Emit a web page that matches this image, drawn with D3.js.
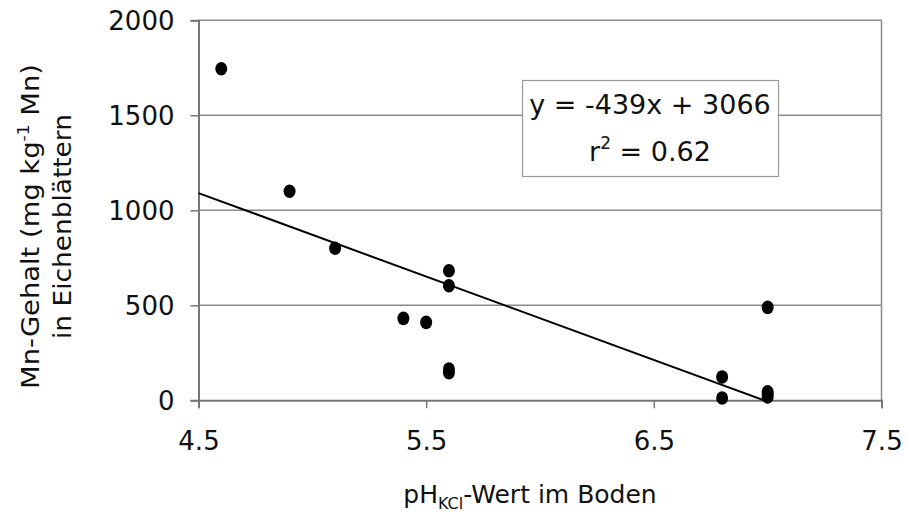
<!DOCTYPE html>
<html><head><meta charset="utf-8">
<script src="https://cdn.jsdelivr.net/npm/d3@7"></script>
<style>body{margin:0;background:#fff}svg{display:block}text{font-family:"DejaVu Sans",Verdana,sans-serif;fill:#111}</style>
</head><body><svg id="c" width="907" height="513"></svg>
<script>
const phValues = [4.6, 4.9, 5.1, 5.6, 5.6, 5.4, 5.5, 5.6, 5.6, 6.8, 6.8, 7.0, 7.0, 7.0, 7.0];
const mnValues = [1745, 1100, 800, 682, 603, 431, 410, 165, 145, 123, 12, 489, 45, 30, 18];
const xTicks = [4.5, 5.5, 6.5, 7.5];
const yTicks = [0, 500, 1000, 1500, 2000];
const slope = -439, intercept = 3066;
const eqLines = ["y = -439x + 3066", "r2 = 0.62"];

const svg = d3.select("#c");
const L = 198.5, R = 881.5, T = 20.3, B = 400.3;
const x = d3.scaleLinear().domain([4.5, 7.5]).range([L, R]);
const y = d3.scaleLinear().domain([0, 2000]).range([B, T]);

// gridlines
svg.append("g").selectAll("line").data(yTicks.filter(d => d > 0)).join("line")
  .attr("x1", L).attr("x2", R).attr("y1", d => y(d)).attr("y2", d => y(d))
  .attr("stroke", "#8a8a8a").attr("stroke-width", 1.5);
// right border
svg.append("line").attr("x1", R).attr("x2", R).attr("y1", T).attr("y2", B).attr("stroke", "#8a8a8a").attr("stroke-width", 1.5);

// axes
const yAxis = d3.axisLeft(y).tickValues(yTicks).tickSize(8).tickPadding(16).tickFormat(d3.format("d"));
const gy = svg.append("g").attr("transform", `translate(${L},0)`).call(yAxis);
const xAxis = d3.axisBottom(x).tickValues(xTicks).tickSize(8).tickPadding(23).tickFormat(d3.format(".1f"));
const gx = svg.append("g").attr("transform", `translate(0,${B})`).call(xAxis);
[gx, gy].forEach(g => {
  g.select(".domain").attr("stroke", "#777").attr("stroke-width", 2);
  g.selectAll(".tick line").attr("stroke", "#777").attr("stroke-width", 1.5);
  g.selectAll(".tick text").attr("font-size", 26).attr("font-family", '"DejaVu Sans",Verdana,sans-serif').attr("fill", "#111");
});
gy.selectAll(".tick text").attr("dy", "0.36em");

// regression line from x=4.5 to x-intercept
const xEnd = -intercept / slope;
svg.append("line")
  .attr("x1", x(4.5)).attr("y1", y(slope * 4.5 + intercept))
  .attr("x2", x(xEnd)).attr("y2", y(slope * xEnd + intercept))
  .attr("stroke", "#000").attr("stroke-width", 2);

// points
svg.append("g").selectAll("ellipse").data(phValues.map((p, i) => [p, mnValues[i]])).join("ellipse")
  .attr("cx", d => x(d[0])).attr("cy", d => y(d[1])).attr("rx", 6).attr("ry", 6.8).attr("fill", "#000");

// equation box
svg.append("rect").attr("x", 522.5).attr("y", 80.5).attr("width", 256).attr("height", 96)
  .attr("fill", "#fff").attr("stroke", "#999").attr("stroke-width", 1.2);
svg.append("text").attr("x", 650).attr("y", 114).attr("text-anchor", "middle").attr("font-size", 27).text(eqLines[0]);
const t2 = svg.append("text").attr("x", 650).attr("y", 161).attr("text-anchor", "middle").attr("font-size", 27);
t2.append("tspan").text("r");
t2.append("tspan").attr("font-size", 17).attr("dy", -12).text("2");
t2.append("tspan").attr("dy", 12).text(" = 0.62");

// x title
const xt = svg.append("text").attr("x", 530).attr("y", 503).attr("text-anchor", "middle").attr("font-size", 25);
xt.append("tspan").text("pH");
xt.append("tspan").attr("font-size", 16).attr("dy", 6).text("KCl");
xt.append("tspan").attr("dy", -6).text("-Wert im Boden");

// y title
const yt = svg.append("text").attr("transform", "translate(39,226.5) rotate(-90) scale(1.14,1)").attr("text-anchor", "middle").attr("font-size", 24);
yt.append("tspan").text("Mn-Gehalt (mg kg");
yt.append("tspan").attr("font-size", 15).attr("dy", -10).text("-1");
yt.append("tspan").attr("dy", 10).text(" Mn)");
svg.append("text").attr("transform", "translate(71,226.5) rotate(-90) scale(1.1,1)").attr("text-anchor", "middle").attr("font-size", 24).text("in Eichenblättern");
</script></body></html>
